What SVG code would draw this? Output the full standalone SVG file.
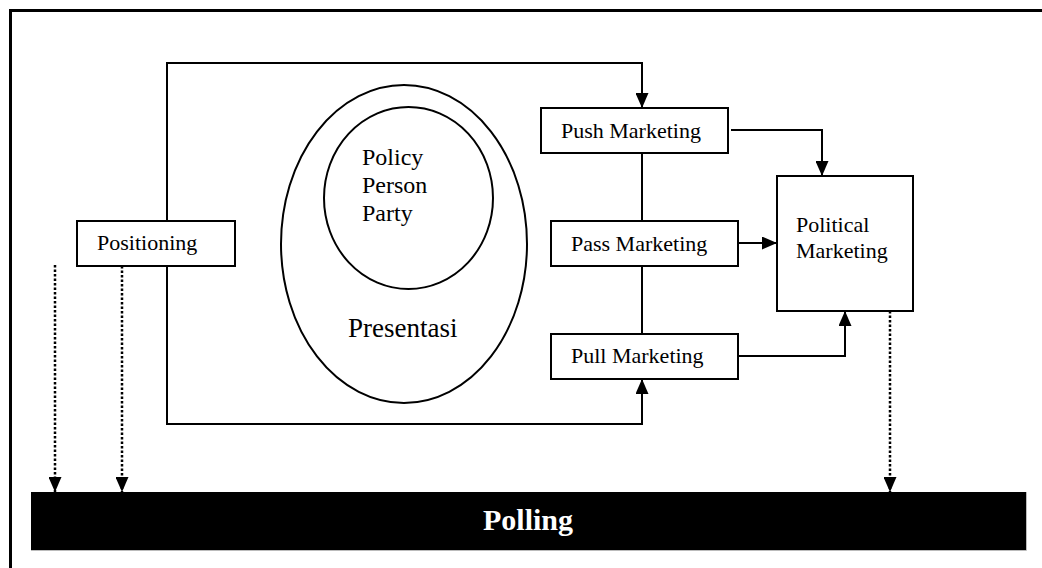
<svg xmlns="http://www.w3.org/2000/svg" width="1042" height="568" viewBox="0 0 1042 568">
<style>
.box{fill:#fff;stroke:#000;stroke-width:2}
.ln{fill:none;stroke:#000;stroke-width:2}
.dot{fill:none;stroke:#000;stroke-width:2.5;stroke-dasharray:2.5 2}
</style>
<defs>
<marker id="ah" viewBox="0 0 15 13" refX="15" refY="6.5" markerWidth="15" markerHeight="13" markerUnits="userSpaceOnUse" orient="auto">
<path d="M0,0 L15,6.5 L0,13 Z" fill="#000"/>
</marker>
</defs>
<rect width="1042" height="568" fill="#fff"/>
<path d="M10.5,580 V10.5 H1050" fill="none" stroke="#000" stroke-width="3"/>

<g id="connectors">
<path class="ln" d="M167,221 V63 H642 V108" marker-end="url(#ah)"/>
<path class="ln" d="M167,266 V424 H642 V379" marker-end="url(#ah)"/>
<path class="ln" d="M642,153 V221"/>
<path class="ln" d="M642,266 V334"/>
<path class="ln" d="M731,130 H822 V176" marker-end="url(#ah)"/>
<path class="ln" d="M738,243 H777" marker-end="url(#ah)"/>
<path class="ln" d="M738,356 H845 V311" marker-end="url(#ah)"/>
<path class="dot" d="M55,265 V492" marker-end="url(#ah)"/>
<path class="dot" d="M122,266 V492" marker-end="url(#ah)"/>
<path class="dot" d="M890,311 V492" marker-end="url(#ah)"/>
</g>

<g font-family="'Liberation Serif', 'Times New Roman', serif" font-size="22" fill="#000">
<g id="presentasi">
<ellipse cx="404" cy="244" rx="123" ry="159" class="box"/>
<text x="348" y="337" font-size="27">Presentasi</text>
</g>
<g id="policy">
<ellipse cx="408.5" cy="198" rx="84.5" ry="91" class="box"/>
<text x="362" y="165" font-size="24">Policy</text>
<text x="362" y="193" font-size="24">Person</text>
<text x="362" y="221" font-size="24">Party</text>
</g>
<g id="positioning">
<rect x="77" y="221" width="158" height="45" class="box"/>
<text x="97" y="250">Positioning</text>
</g>
<g id="push">
<rect x="541" y="108" width="187" height="45" class="box"/>
<text x="561" y="138">Push Marketing</text>
</g>
<g id="pass">
<rect x="551" y="221" width="187" height="45" class="box"/>
<text x="571" y="251">Pass Marketing</text>
</g>
<g id="pull">
<rect x="551" y="334" width="187" height="45" class="box"/>
<text x="571" y="363">Pull Marketing</text>
</g>
<g id="political">
<rect x="777" y="176" width="136" height="135" class="box"/>
<text x="796" y="232">Political</text>
<text x="796" y="258">Marketing</text>
</g>
<g id="polling">
<path d="M31,550.5 H1026.5 V492" fill="none" stroke="#bbb" stroke-width="1"/>
<rect x="31" y="492" width="995" height="58" fill="#000"/>
<text x="528" y="530" text-anchor="middle" font-size="30" font-weight="bold" fill="#fff">Polling</text>
</g>
</g>
</svg>
